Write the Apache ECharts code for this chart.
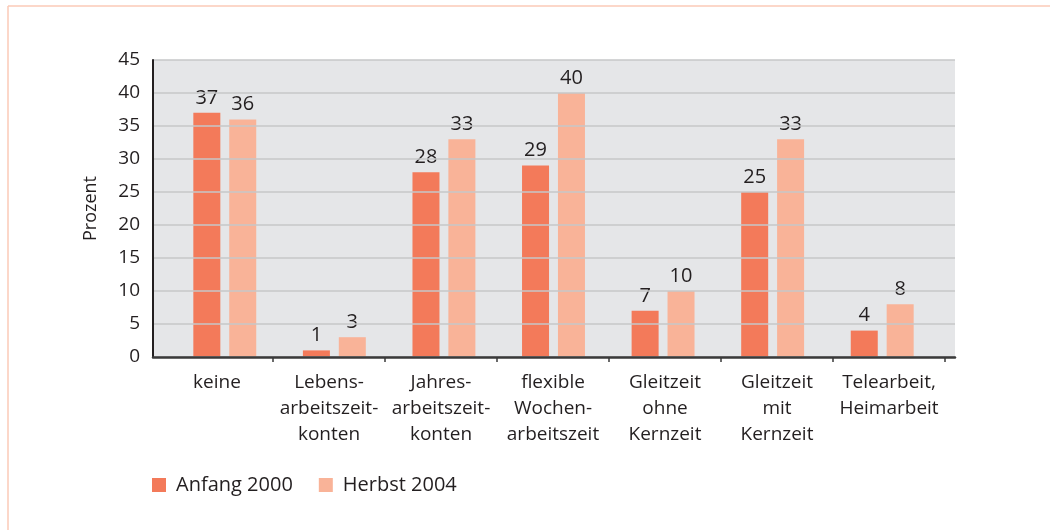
<!DOCTYPE html>
<html>
<head>
<meta charset="utf-8">
<script src="https://cdn.jsdelivr.net/npm/echarts@6/dist/echarts.min.js"></script>
<style>
  html, body { margin: 0; padding: 0; background: #fff; }
  #chart { width: 1050px; height: 530px; }
</style>
</head>
<body>
<div id="chart"></div>
<script>
// Arbeitszeitmodelle, Anteil in Prozent
const categories = [
  "keine",
  "Lebens-\narbeitszeit-\nkonten",
  "Jahres-\narbeitszeit-\nkonten",
  "flexible\nWochen-\narbeitszeit",
  "Gleitzeit\nohne\nKernzeit",
  "Gleitzeit\nmit\nKernzeit",
  "Telearbeit,\nHeimarbeit"
];
const anfang2000 = [37, 1, 28, 29, 7, 25, 4];
const herbst2004 = [36, 3, 33, 40, 10, 33, 8];
const yMin = 0, yMax = 45, yStep = 5;

const FONT = "Open Sans";
const TXT = "#231f20";

const chart = echarts.init(document.getElementById("chart"));

// grid 0: background + y axis, grid 1: category ticks/labels, grid 2: bars
const gTop = 60, gHeight = 297;

chart.setOption({
  animation: false,
  textStyle: { fontFamily: FONT },
  graphic: [
    { type: "line", shape: { x1: 8, y1: 6, x2: 1050, y2: 6 }, style: { stroke: "#fbcab7", lineWidth: 1.5 } },
    { type: "line", shape: { x1: 8, y1: 6, x2: 8, y2: 530 }, style: { stroke: "#fbcab7", lineWidth: 1.5 } }
  ],
  legend: {
    left: 152,
    top: 475,
    padding: 0,
    itemWidth: 14,
    itemHeight: 14,
    itemGap: 26,
    icon: "rect",
    textStyle: { fontSize: 20, color: TXT, fontFamily: FONT, padding: [0, 0, 0, 5] },
    data: ["Anfang 2000", "Herbst 2004"]
  },
  grid: [
    { left: 153, top: gTop, width: 802, height: gHeight, show: true, backgroundColor: "#e5e6e8", borderWidth: 0 },
    { left: 161, top: gTop, width: 784, height: gHeight },
    { left: 170, top: gTop, width: 767, height: gHeight }
  ],
  xAxis: [
    {
      gridIndex: 0, type: "category", data: categories,
      axisLine: { show: true, lineStyle: { color: "#3a3a3a", width: 2.5 } },
      axisTick: { show: false }, axisLabel: { show: false }, z: 5
    },
    {
      gridIndex: 1, type: "category", data: categories,
      axisLine: { show: false },
      axisTick: { show: true, length: 5, interval: (i) => i !== 0, lineStyle: { color: "#3a3a3a", width: 1.5 } },
      axisLabel: { fontSize: 19, color: TXT, fontFamily: FONT, lineHeight: 26, margin: 13, interval: 0 }
    },
    { gridIndex: 2, type: "category", data: categories, show: false }
  ],
  yAxis: [
    {
      gridIndex: 0, type: "value", min: yMin, max: yMax, interval: yStep,
      name: "Prozent", nameLocation: "middle", nameRotate: 90, nameGap: 53,
      nameTextStyle: { fontSize: 18, color: TXT, fontFamily: FONT },
      axisLine: { show: true, lineStyle: { color: "#231f20", width: 2 } },
      axisTick: { show: false },
      axisLabel: { fontSize: 19, color: TXT, fontFamily: FONT, margin: 13 },
      splitLine: { show: true, lineStyle: { color: "#c6c7c9", width: 1.5 } },
      z: 5
    },
    { gridIndex: 1, type: "value", min: yMin, max: yMax, show: false },
    { gridIndex: 2, type: "value", min: yMin, max: yMax, show: false }
  ],
  series: [
    {
      name: "Anfang 2000", type: "bar", xAxisIndex: 2, yAxisIndex: 2,
      data: anfang2000, barWidth: 27, barGap: "33%",
      itemStyle: { color: "#f37a5a" },
      label: { show: true, position: "top", distance: 5, fontSize: 20, color: TXT, fontFamily: FONT }
    },
    {
      name: "Herbst 2004", type: "bar", xAxisIndex: 2, yAxisIndex: 2,
      data: herbst2004, barWidth: 27, barGap: "33%",
      itemStyle: { color: "#f9b398" },
      label: { show: true, position: "top", distance: 5, fontSize: 20, color: TXT, fontFamily: FONT }
    }
  ]
});
</script>
</body>
</html>
